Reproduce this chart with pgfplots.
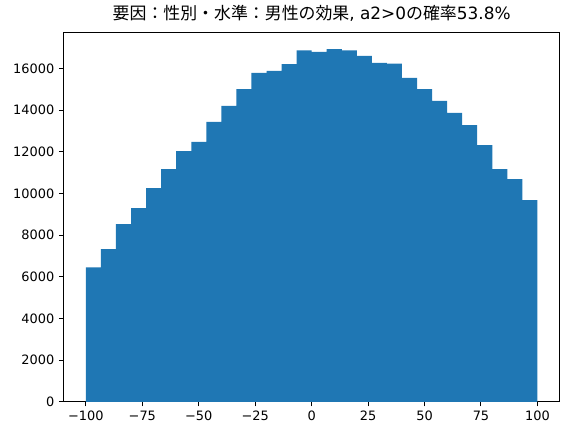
\documentclass[border=0pt]{standalone}
\usepackage{pgfplots}
\pgfplotsset{compat=1.18}
\usepackage{fontspec}
\setmainfont{DejaVu Sans}
\newfontfamily\cjk{Noto Sans CJK JP}
\definecolor{mplblue}{HTML}{1F77B4}
\begin{document}
\begin{tikzpicture}
\begin{axis}[
  name=ax,
  scale only axis,
  width=496.5pt, height=369pt,
  xmin=-110, xmax=110, ymin=0, ymax=17712,
  xtick={-100,-75,-50,-25,0,25,50,75,100},
  xticklabels={−100,−75,−50,−25,0,25,50,75,100},
  ytick={0,2000,4000,6000,8000,10000,12000,14000,16000},
  scaled y ticks=false,
  /pgf/number format/1000 sep={},
  /pgf/number format/assume math mode=true,
  tick align=outside,
  xtick pos=bottom, ytick pos=left,
  major tick length=4.5pt,
  every tick/.style={black, line width=1pt},
  axis line style={line width=1pt},
  tick label style={font=\fontsize{12.9}{14}\selectfont},
  xticklabel style={yshift=-1pt},
  yticklabel style={xshift=-1pt},
  title={{\cjk 要因：性別・水準：男性の効果}, a2>0{\cjk の確率}53.8\%},
  title style={font=\fontsize{16.9}{19}\selectfont, at={(0.5,1)}, anchor=base, yshift=7pt, inner sep=0pt},
]
\addplot[ybar interval, fill=mplblue, draw=none] coordinates {
(-100,6450) (-93.333,7330) (-86.667,8530) (-80,9300) (-73.333,10260)
(-66.667,11170) (-60,12030) (-53.333,12470) (-46.667,13430) (-40,14200)
(-33.333,15010) (-26.667,15780) (-20,15880) (-13.333,16210) (-6.667,16870)
(0,16790) (6.667,16930) (13.333,16870) (20,16600) (26.667,16270)
(33.333,16230) (40,15540) (46.667,15010) (53.333,14440) (60,13860)
(66.667,13280) (73.333,12320) (80,11170) (86.667,10690) (93.333,9680)
(100,9680)
};
\end{axis}
\pgfresetboundingbox
\path[use as bounding box] ([xshift=-63.3pt,yshift=-33.3pt]ax.south west) rectangle ([xshift=8pt,yshift=32.7pt]ax.north east);
\end{tikzpicture}
\end{document}
